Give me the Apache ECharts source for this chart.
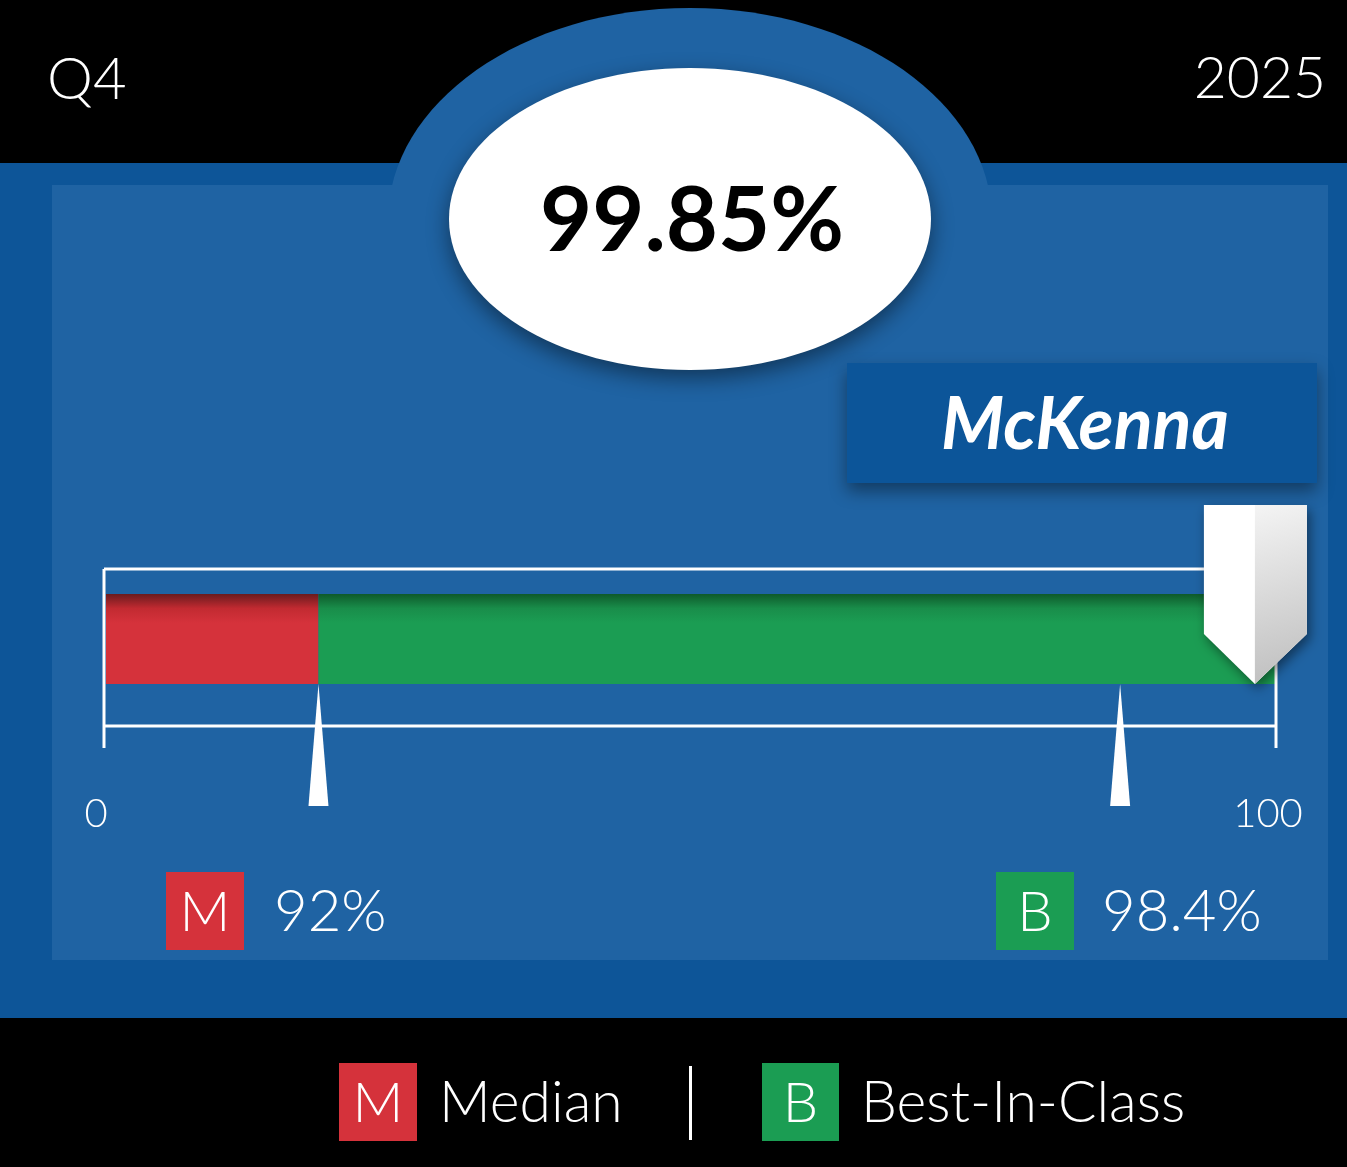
<!DOCTYPE html>
<html>
<head>
<meta charset="utf-8">
<script src="https://cdn.jsdelivr.net/npm/echarts@6/dist/echarts.min.js"></script>
<style>
  html, body { margin: 0; padding: 0; background: #000; }
  #chart { width: 1347px; height: 1167px; }
</style>
</head>
<body>
<div id="chart"></div>
<script>
// ---- data ----
const periodLabel = 'Q4';
const yearLabel = '2025';
const entityName = 'McKenna';
const trackCategory = ['McKenna'];
const axisTicks = [0, 100];
const seriesNames = ['Median', 'Best-In-Class'];
const seriesLetters = ['M', 'B'];
const benchmarkValues = [92, 98.4];          // % shown in labels
const benchmarkPositions = [18.3, 86.7];     // position on the 0–100 track
const scoreValue = 99.85;                    // headline score (%)
const scorePosition = 98.2;                  // position on the 0–100 track
const trackSegments = [[0, 18.3], [18.3, 100]]; // red then green band on the track

// ---- styles ----
const RED = '#d5323b', GREEN = '#1b9d53';
const PANEL_DARK = '#0d5598', PANEL_LIGHT = '#1f63a3';
const FONT = 'Lato, "Open Sans", sans-serif';

const chart = echarts.init(document.getElementById('chart'), null, { renderer: 'canvas' });

function txt(text, x, y, size, opts) {
  opts = opts || {};
  return {
    type: 'text', z: 5,
    style: {
      text: text, x: x, y: y,
      fill: opts.fill || '#fff',
      fontSize: size, fontFamily: FONT,
      fontWeight: opts.weight || 'normal',
      fontStyle: opts.style || 'normal',
      textAlign: opts.align || 'left', align: opts.align || 'left',
      textVerticalAlign: 'middle', verticalAlign: 'middle'
    }
  };
}
function letterBox(letter, color, x, y, w, h, size) {
  return [
    { type: 'rect', z: 4, shape: { x: x, y: y, width: w, height: h }, style: { fill: color } },
    txt(letter, x + w / 2, y + h / 2 + 2, size, { align: 'center', weight: 300 })
  ];
}

const graphics = [
  { type: 'rect', z: -10, shape: { x: 0, y: 163, width: 1347, height: 855 }, style: { fill: PANEL_DARK } },
  { type: 'ellipse', z: -9, shape: { cx: 690, cy: 220, rx: 302, ry: 212 }, style: { fill: PANEL_LIGHT } },
  { type: 'rect', z: -8, shape: { x: 52, y: 185, width: 1276, height: 775 }, style: { fill: PANEL_LIGHT } },
  { type: 'ellipse', z: -7, shape: { cx: 690, cy: 219, rx: 241, ry: 151 },
    style: { fill: '#ffffff', shadowBlur: 22, shadowColor: 'rgba(0,0,0,0.45)', shadowOffsetY: 8 } },
  txt(scoreValue.toFixed(2) + '%', 692, 222, 90, { align: 'center', weight: 'bold', fill: '#000' }),
  { type: 'rect', z: -6, shape: { x: 847, y: 363, width: 470, height: 120 },
    style: { fill: '#0c5599', shadowBlur: 16, shadowColor: 'rgba(0,0,0,0.4)', shadowOffsetY: 8 } },
  txt(entityName, 1085, 426, 72, { align: 'center', weight: 'bold', style: 'italic' }),
  txt(periodLabel, 47, 80, 58, { weight: 300 }),
  txt(yearLabel, 1326, 80, 57, { align: 'right', weight: 300 }),
  ...letterBox(seriesLetters[0], RED, 166, 872, 78, 78, 56),
  txt(benchmarkValues[0] + '%', 274, 912, 58, { weight: 300 }),
  ...letterBox(seriesLetters[1], GREEN, 996, 872, 78, 78, 56),
  txt(benchmarkValues[1] + '%', 1102, 912, 58, { weight: 300 }),
  ...letterBox(seriesLetters[0], RED, 339, 1063, 78, 78, 56),
  txt(seriesNames[0], 439, 1104, 57, { weight: 300 }),
  { type: 'rect', z: 4, shape: { x: 689, y: 1066, width: 3, height: 74 }, style: { fill: '#fff' } },
  ...letterBox(seriesLetters[1], GREEN, 762, 1063, 77, 78, 56),
  txt(seriesNames[1], 861, 1104, 57, { weight: 300 })
];

function grad(dark, mid, base) {
  return new echarts.graphic.LinearGradient(0, 0, 0, 1, [
    { offset: 0, color: dark }, { offset: 0.16, color: mid },
    { offset: 0.32, color: base }, { offset: 1, color: base }
  ]);
}

const option = {
  backgroundColor: '#000',
  animation: false,
  graphic: { elements: graphics },
  grid: { left: 104, right: 71, top: 594, height: 90, containLabel: false },
  xAxis: {
    type: 'value', min: axisTicks[0], max: axisTicks[1], interval: 100,
    axisLine: { show: false }, axisTick: { show: false }, splitLine: { show: false },
    axisLabel: {
      show: true, color: '#fff', fontSize: 40, fontFamily: FONT, fontWeight: 300,
      margin: 110, padding: [0, 16, 0, 0],
      formatter: function (v) { return axisTicks.indexOf(v) >= 0 ? String(v) : ''; }
    }
  },
  yAxis: { type: 'category', data: trackCategory, show: false },
  series: [
    {
      type: 'custom', name: 'track', clip: false, z: 3,
      data: trackSegments.map((s, i) => [s[0], s[1], i]),
      renderItem: function (params, api) {
        const a = api.coord([api.value(0), 0]);
        const b = api.coord([api.value(1), 0]);
        const h = api.size([0, 1])[1];
        const idx = api.value(2);
        const fill = idx === 0 ? grad('#6a1b1e', '#c22a31', RED) : grad('#0e5a2b', '#198d4a', GREEN);
        return { type: 'rect', shape: { x: a[0] + (idx === 0 ? 2 : 0), y: a[1] - h / 2, width: b[0] - a[0] - (idx === 0 ? 2 : 0), height: h }, style: { fill: fill } };
      }
    },
    {
      type: 'custom', name: 'frame', clip: false, z: 4,
      data: [[axisTicks[0], axisTicks[1]]],
      renderItem: function (params, api) {
        const a = api.coord([api.value(0), 0]);
        const b = api.coord([api.value(1), 0]);
        const h = api.size([0, 1])[1];
        const top = a[1] - h / 2 - 25, bottom = a[1] + h / 2 + 42, foot = a[1] + h / 2 + 64;
        const st = { stroke: '#fff', lineWidth: 3 };
        return { type: 'group', children: [
          { type: 'line', shape: { x1: a[0], y1: top, x2: b[0], y2: top }, style: st },
          { type: 'line', shape: { x1: a[0], y1: bottom, x2: b[0], y2: bottom }, style: st },
          { type: 'line', shape: { x1: a[0], y1: top, x2: a[0], y2: foot }, style: st },
          { type: 'line', shape: { x1: b[0], y1: top, x2: b[0], y2: foot }, style: st }
        ] };
      }
    },
    {
      type: 'custom', name: 'benchmarks', clip: false, z: 5,
      data: benchmarkPositions.map(p => [p, 0]),
      renderItem: function (params, api) {
        const p = api.coord([api.value(0), 0]);
        const h = api.size([0, 1])[1];
        const y0 = p[1] + h / 2;
        return { type: 'polygon', shape: { points: [[p[0], y0], [p[0] - 10, y0 + 122], [p[0] + 10, y0 + 122]] }, style: { fill: '#fff' } };
      }
    },
    {
      type: 'custom', name: 'score', clip: false, z: 6,
      data: [[scorePosition, 0]],
      renderItem: function (params, api) {
        const p = api.coord([api.value(0), 0]);
        const h = api.size([0, 1])[1];
        const x = p[0], ay = p[1] + h / 2;
        const topY = ay - 179, sh = ay - 50;
        return { type: 'group', children: [
          { type: 'polygon', shape: { points: [[x - 51, topY], [x + 52, topY], [x + 52, sh], [x, ay], [x - 51, sh]] },
            style: { fill: '#fff', shadowBlur: 12, shadowColor: 'rgba(0,0,0,0.45)', shadowOffsetX: 3, shadowOffsetY: 5 } },
          { type: 'polygon', shape: { points: [[x, topY], [x + 52, topY], [x + 52, sh], [x, ay]] },
            style: { fill: new echarts.graphic.LinearGradient(0, 0, 1, 1, [
              { offset: 0, color: '#f4f4f4' }, { offset: 1, color: '#bdbdbd' }]) } }
        ] };
      }
    }
  ]
};
chart.setOption(option);
</script>
</body>
</html>
